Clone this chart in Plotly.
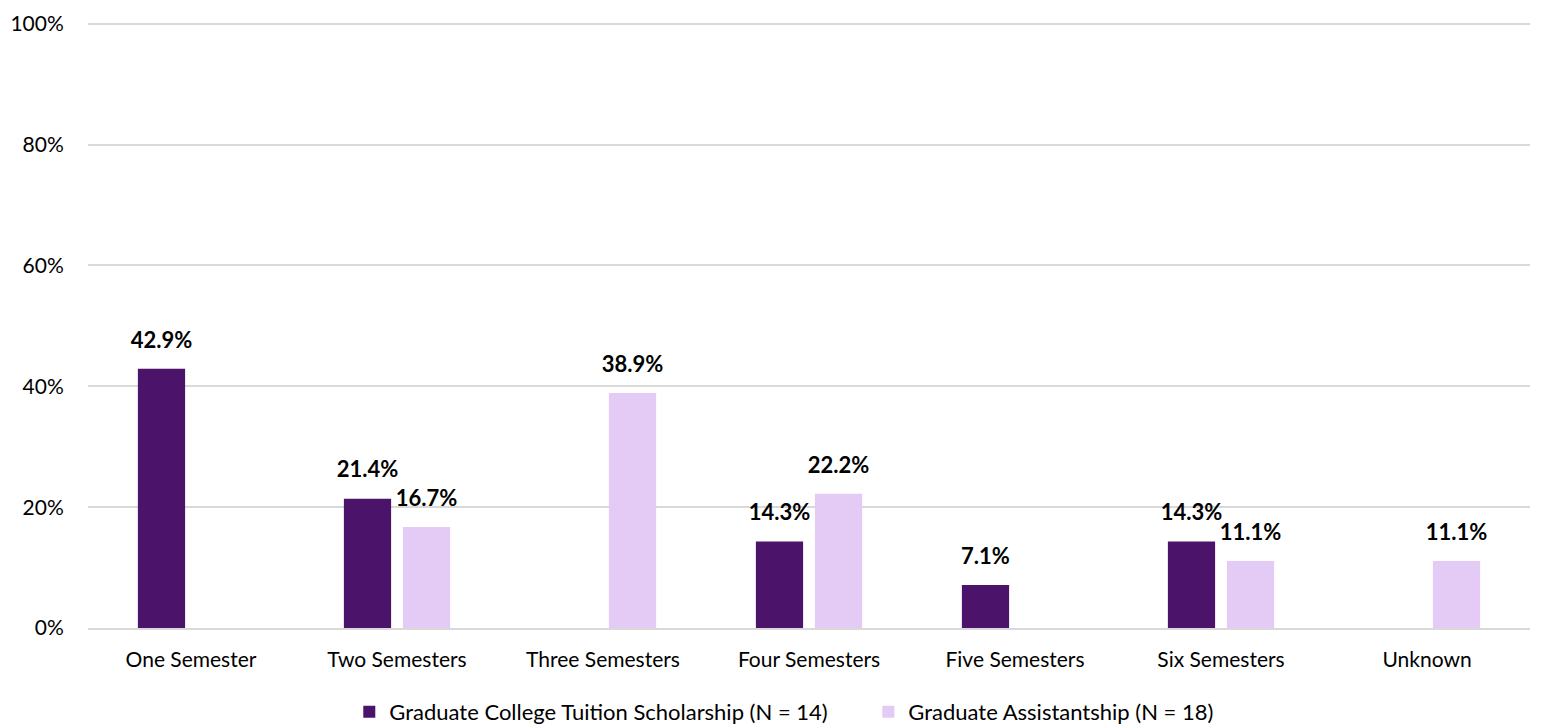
import plotly.graph_objects as go

categories = ["One Semester", "Two Semesters", "Three Semesters", "Four Semesters",
              "Five Semesters", "Six Semesters", "Unknown"]
scholarship = [42.9, 21.4, None, 14.3, 7.1, 14.3, None]
assistantship = [None, 16.7, 38.9, 22.2, None, 11.1, 11.1]
series_names = ["Graduate College Tuition Scholarship (N = 14)",
                "Graduate Assistantship (N = 18)"]
y_ticks = [0, 20, 40, 60, 80, 100]

FONT = "Lato, Open Sans, sans-serif"
colors = ["#4B136A", "#E4CBF5"]
LABEL_LIFT = 2.2  # gap (in axis units) between bar top and its value label

fig = go.Figure()
for i, (name, vals, col) in enumerate(zip(series_names, [scholarship, assistantship], colors)):
    grp = f"g{i}"
    fig.add_trace(go.Bar(
        x=categories, y=vals, name=name, offsetgroup=grp,
        marker=dict(color=col, line=dict(width=0)),
        hoverinfo="skip",
    ))
    # invisible carrier bar sitting on top of each bar, holding the value label
    fig.add_trace(go.Bar(
        x=categories,
        y=[LABEL_LIFT if v is not None else None for v in vals],
        base=vals,
        offsetgroup=grp, showlegend=False, hoverinfo="skip",
        marker=dict(color="rgba(0,0,0,0)", line=dict(width=0)),
        text=[f"<b>{v:.1f}%</b>" if v is not None else "" for v in vals],
        texttemplate="%{text}",
        textposition="outside", constraintext="none", cliponaxis=False,
        textfont=dict(family=FONT, size=22, color="#000000"),
    ))

# page body adds an 8px offset, so margins are reduced by 8; the figure runs
# a bit past the window bottom so the legend does not squeeze the plot area
fig.update_layout(
    width=1541, height=760,
    margin=dict(l=80, r=19, t=14, b=140),
    paper_bgcolor="white", plot_bgcolor="white",
    barmode="group", bargap=0.427, bargroupgap=0.2,
    font=dict(family=FONT, size=20, color="#000000"),
    showlegend=True,
    legend=dict(orientation="h", x=0.1812, xanchor="left", y=-0.1386, yanchor="middle",
                font=dict(family=FONT, size=22), itemwidth=30, traceorder="normal",
                entrywidth=474, entrywidthmode="pixels"),
    xaxis=dict(showgrid=False, showline=True, linecolor="#D9D9D9", linewidth=2,
               ticks="outside", ticklen=12, tickcolor="rgba(0,0,0,0)",
               tickfont=dict(size=21), automargin=False),
    yaxis=dict(range=[0, 100.3], tickmode="array", tickvals=y_ticks,
               ticktext=[f"{t}%" for t in y_ticks], showgrid=True,
               gridcolor="#D9D9D9", gridwidth=1.5, zeroline=False, showline=False,
               ticks="outside", ticklen=19, tickcolor="rgba(0,0,0,0)",
               tickfont=dict(size=21), automargin=False),
)

fig.write_html("out.html")
